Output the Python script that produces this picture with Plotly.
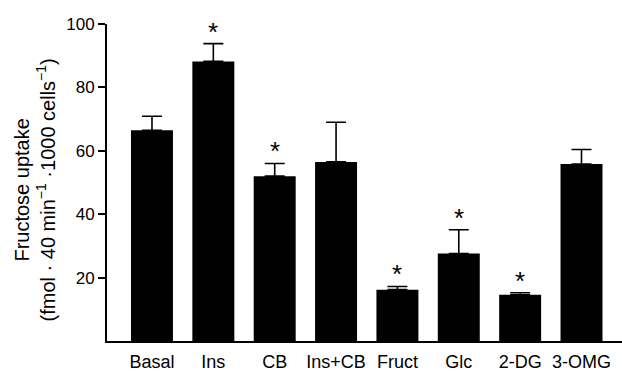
import plotly.graph_objects as go

categories = ["Basal", "Ins", "CB", "Ins+CB", "Fruct", "Glc", "2-DG", "3-OMG"]
uptake = [66.5, 88.2, 52.0, 56.5, 16.2, 27.6, 14.6, 55.8]
sem = [4.4, 5.6, 4.0, 12.5, 1.0, 7.5, 0.6, 4.6]
significant = [False, True, True, False, True, True, True, False]
y_ticks = [20, 40, 60, 80, 100]

FONT = "Liberation Sans, Arial, Helvetica, sans-serif"

fig = go.Figure()
fig.add_trace(go.Bar(
    x=categories, y=uptake,
    marker=dict(color="black", line=dict(width=0)),
    width=0.684,
    error_y=dict(type="data", symmetric=False, array=sem,
                 arrayminus=[0] * len(sem), color="black",
                 thickness=1.6, width=10),
))

for c, v, e, s in zip(categories, uptake, sem, significant):
    if s:
        fig.add_annotation(x=c, y=v + e, xref="x", yref="y", text="*",
                           showarrow=False, yanchor="middle", yshift=12,
                           font=dict(family=FONT, size=26, color="black"))

W, H = 622, 372
L, R, T, B = 107, 0, 24, 28
pw = W - L - R
ph = H - T - B

fig.add_annotation(
    xref="paper", yref="paper",
    x=(35 - L) / pw, y=(H - B - 192) / ph,
    text="Fructose uptake<br>(fmol · 40 min<sup>−1</sup> ·1000 cells<sup>−1</sup>)",
    textangle=-90, showarrow=False, xanchor="center", yanchor="middle",
    font=dict(family=FONT, size=20, color="black"),
)

fig.update_layout(
    width=W, height=H,
    margin=dict(l=L, r=R, t=T, b=B),
    plot_bgcolor="white", paper_bgcolor="white",
    showlegend=False,
    font=dict(family=FONT, color="black"),
    xaxis=dict(range=[-0.733, 7.66], showline=True, linecolor="black",
               linewidth=2, ticks="", showgrid=False, zeroline=False,
               tickfont=dict(size=18), ticklabelstandoff=3, fixedrange=True),
    yaxis=dict(range=[0, 100], tickvals=y_ticks, showline=True,
               linecolor="black", linewidth=2, ticks="outside", ticklen=7,
               tickwidth=2, tickcolor="black", showgrid=False,
               zeroline=False, tickfont=dict(size=17)),
)

fig.write_html("out.html",
               config={"displayModeBar": False},
               post_script="document.body.style.margin='0';"
                           "document.body.style.overflow='hidden';")
